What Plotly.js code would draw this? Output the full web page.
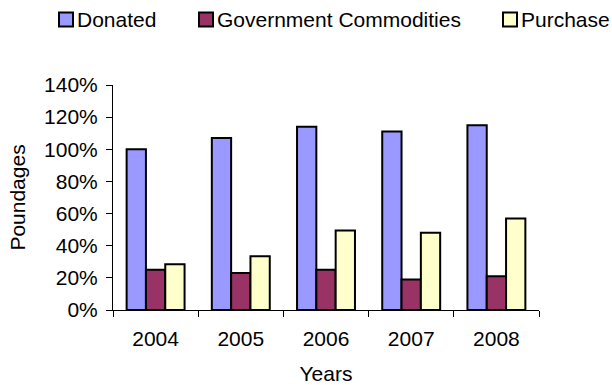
<!DOCTYPE html>
<html>
<head>
<meta charset="utf-8">
<script src="https://cdn.plot.ly/plotly-3.0.1.min.js"></script>
<style>
  html, body { margin: 0; padding: 0; background: #fff; }
  #chart { width: 612px; height: 385px; }
</style>
</head>
<body>
<div id="chart"></div>
<script>
// Poundages by source, share of baseline
const years = ['2004', '2005', '2006', '2007', '2008'];
const donated = [1.00, 1.07, 1.14, 1.11, 1.15];
const government = [0.25, 0.23, 0.25, 0.19, 0.21];
const purchase = [0.285, 0.335, 0.495, 0.48, 0.57];

const seriesNames = ['Donated', 'Government Commodities', 'Purchase'];
const seriesColors = ['#9999FF', '#993366', '#FFFFCC'];
const seriesValues = [donated, government, purchase];

const FONT = '"Liberation Sans", Arial, sans-serif';
const FS = 21;

const traces = seriesValues.map((vals, i) => ({
  type: 'bar',
  name: seriesNames[i],
  x: years,
  y: vals,
  marker: { color: seriesColors[i], line: { color: '#000', width: 2 } },
  hoverinfo: 'x+y'
}));

// Legend row above the plot: swatch squares plus labels
const swatchLeft = [59, 199, 503];   // px from left edge of the page
const swatchSize = 14;
const plotL = 113, plotR = 539, plotT = 85, plotB = 310;
const pw = plotR - plotL, ph = plotB - plotT;
const px = v => (v - plotL) / pw;
const py = v => (plotB - v) / ph;

const shapes = swatchLeft.map((x0, i) => ({
  type: 'rect', xref: 'paper', yref: 'paper',
  x0: px(x0), x1: px(x0 + swatchSize),
  y0: py(26.5), y1: py(12.5),
  fillcolor: seriesColors[i],
  line: { color: '#000', width: 2 }
}));

const annotations = swatchLeft.map((x0, i) => ({
  xref: 'paper', yref: 'paper',
  x: px(x0 + swatchSize + 2), y: py(20),
  xanchor: 'left', yanchor: 'middle',
  text: seriesNames[i], showarrow: false,
  font: { family: FONT, size: FS, color: '#000' }
}));

const layout = {
  width: 612, height: 385,
  margin: { l: plotL, r: 612 - plotR, t: plotT, b: 385 - plotB, pad: 0 },
  paper_bgcolor: '#fff', plot_bgcolor: '#fff',
  font: { family: FONT, size: FS, color: '#000' },
  showlegend: false,
  barmode: 'group',
  bargap: 0.32,
  bargroupgap: 0,
  xaxis: {
    type: 'category',
    range: [-0.5, 4.5],
    showline: true, linecolor: '#000', linewidth: 1,
    ticks: 'outside', tickson: 'boundaries', ticklen: 6, tickcolor: '#000',
    ticklabelstandoff: 10,
    showgrid: false, zeroline: false,
    tickfont: { family: FONT, size: FS, color: '#000' },
    title: { text: 'Years', font: { family: FONT, size: FS, color: '#000' }, standoff: 20 }
  },
  yaxis: {
    range: [0, 1.4], dtick: 0.2, tick0: 0,
    tickformat: '.0%',
    showline: true, linecolor: '#000', linewidth: 1,
    ticks: 'outside', ticklen: 6, tickcolor: '#000',
    ticklabelstandoff: 4,
    showgrid: false, zeroline: false,
    tickfont: { family: FONT, size: FS, color: '#000' },
    title: { text: 'Poundages', font: { family: FONT, size: FS, color: '#000' }, standoff: 12 }
  },
  shapes: shapes,
  annotations: annotations
};

Plotly.newPlot('chart', traces, layout, { displayModeBar: false, staticPlot: true });
</script>
</body>
</html>
